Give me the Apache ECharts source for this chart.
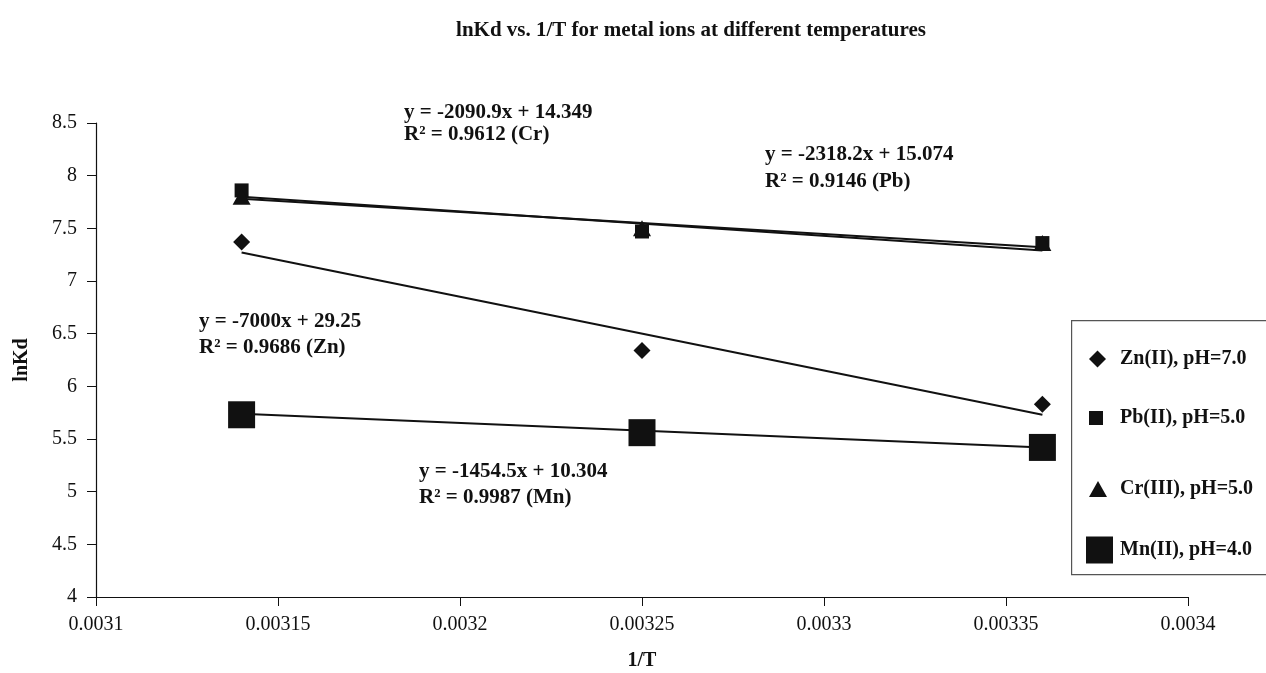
<!DOCTYPE html>
<html>
<head>
<meta charset="utf-8">
<script src="https://cdn.jsdelivr.net/npm/echarts@6/dist/echarts.min.js"></script>
<style>html,body{margin:0;padding:0;background:#fff}#c{width:1266px;height:673px}</style>
</head>
<body>
<div id="c"></div>
<script>
// ---- data ----
const xValues = [0.00314, 0.00325, 0.00336];
const seriesNames = ['Zn(II), pH=7.0', 'Pb(II), pH=5.0', 'Cr(III), pH=5.0', 'Mn(II), pH=4.0'];
const znValues = [7.37, 6.34, 5.83];
const pbValues = [7.86, 7.47, 7.36];
const crValues = [7.80, 7.50, 7.36];
const mnValues = [5.73, 5.56, 5.42];
// trendline end values (at first and last x)
const trendX = [0.00314, 0.00336];
const znTrend = [7.27, 5.73];
const pbTrend = [7.80, 7.29];
const crTrend = [7.78, 7.32];
const mnTrend = [5.74, 5.42];
const xTickLabels = ['0.0031', '0.00315', '0.0032', '0.00325', '0.0033', '0.00335', '0.0034'];
const yTickLabels = ['4', '4.5', '5', '5.5', '6', '6.5', '7', '7.5', '8', '8.5'];
const annotations = [
  ['y = -2090.9x + 14.349', 'R\u00b2 = 0.9612 (Cr)'],
  ['y = -2318.2x + 15.074', 'R\u00b2 = 0.9146 (Pb)'],
  ['y = -7000x + 29.25', 'R\u00b2 = 0.9686 (Zn)'],
  ['y = -1454.5x + 10.304', 'R\u00b2 = 0.9987 (Mn)']
];

const FONT = '"Liberation Serif", "Times New Roman", serif';
const pts = v => xValues.map((x, i) => [x, v[i]]);
const tr = v => trendX.map((x, i) => [x, v[i]]);

const symbols = [
  {symbol: 'diamond', size: 17},
  {symbol: 'rect', size: 14},
  {symbol: 'triangle', size: [18, 16]},
  {symbol: 'rect', size: 27}
];
const vals = [znValues, pbValues, crValues, mnValues];
const trends = [znTrend, pbTrend, crTrend, mnTrend];

const series = [];
trends.forEach((t, i) => {
  series.push({
    type: 'line', name: 'trend' + i, data: tr(t), symbol: 'none',
    lineStyle: {color: '#111', width: 2}, silent: true, z: 1
  });
});
vals.forEach((v, i) => {
  series.push({
    type: 'scatter', name: seriesNames[i], data: pts(v),
    symbol: symbols[i].symbol, symbolSize: symbols[i].size,
    itemStyle: {color: '#111', opacity: 1}, z: 3
  });
});

const legendCenters = [359, 418, 489, 550];
const legendSizes = [[17, 17], [14, 14], [18, 16], [27, 27]];
const legendIconLeft = [1089, 1089, 1089, 1086];
const legends = seriesNames.map((n, i) => {
  const h = Math.max(legendSizes[i][1], 22);
  const padLeft = 1120 - legendIconLeft[i] - legendSizes[i][0] - 5;
  return {
    data: [{name: n, icon: symbols[i].symbol}],
    left: legendIconLeft[i], top: legendCenters[i] - h / 2,
    padding: 0,
    itemWidth: legendSizes[i][0], itemHeight: legendSizes[i][1], itemGap: 5,
    selectedMode: false,
    textStyle: {fontFamily: FONT, fontSize: 20, fontWeight: 'bold', color: '#111', lineHeight: 22,
      padding: [0, 0, 0, padLeft]},
    itemStyle: {color: '#111'}
  };
});

const annPos = [[404, 102.5, 22], [765, 144.5, 27], [199, 311.5, 26], [419, 461.5, 26]];
const graphics = [{
  type: 'rect', left: 1071, top: 320, z: 0,
  shape: {width: 200, height: 254},
  style: {fill: '#fff', stroke: '#555', lineWidth: 1.2}
}];
annotations.forEach((a, i) => {
  a.forEach((line, j) => {
    graphics.push({
      type: 'text', left: annPos[i][0], top: annPos[i][1] + j * annPos[i][2], z: 10,
      style: {text: line, fontFamily: FONT, fontSize: 21, fontWeight: 'bold', fill: '#111'}
    });
  });
});

const chart = echarts.init(document.getElementById('c'), null, {renderer: 'canvas'});
chart.setOption({
  backgroundColor: '#fff',
  animation: false,
  title: {
    text: 'lnKd vs. 1/T for metal ions at different temperatures',
    left: 686, top: 15, textAlign: 'center',
    textStyle: {fontFamily: FONT, fontSize: 21, fontWeight: 'bold', color: '#111'}
  },
  grid: {left: 96, right: 78, top: 123, bottom: 76, containLabel: false, outerBoundsMode: 'none'},
  xAxis: {
    type: 'value', min: 0.0031, max: 0.0034, interval: 0.00005,
    name: '1/T', nameLocation: 'middle', nameGap: 54,
    nameTextStyle: {fontFamily: FONT, fontSize: 20, fontWeight: 'bold', color: '#111'},
    axisLine: {lineStyle: {color: '#111', width: 1.2}},
    axisTick: {show: true, length: 9, lineStyle: {color: '#111'}},
    splitLine: {show: false},
    axisLabel: {
      fontFamily: FONT, fontSize: 20, color: '#111', margin: 18,
      formatter: v => xTickLabels[Math.round((v - 0.0031) / 0.00005)]
    }
  },
  yAxis: {
    type: 'value', min: 4, max: 8.5, interval: 0.5,
    name: 'lnKd', nameLocation: 'middle', nameGap: 64,
    nameTextStyle: {fontFamily: FONT, fontSize: 20, fontWeight: 'bold', color: '#111'},
    axisLine: {show: true, lineStyle: {color: '#111', width: 1.2}},
    axisTick: {show: true, length: 9, lineStyle: {color: '#111'}},
    splitLine: {show: false},
    axisLabel: {
      fontFamily: FONT, fontSize: 20, color: '#111', margin: 19,
      padding: [0, 0, 10, 0],
      formatter: v => yTickLabels[Math.round((v - 4) / 0.5)]
    }
  },
  legend: legends,
  graphic: graphics,
  series: series
});
</script>
</body>
</html>
